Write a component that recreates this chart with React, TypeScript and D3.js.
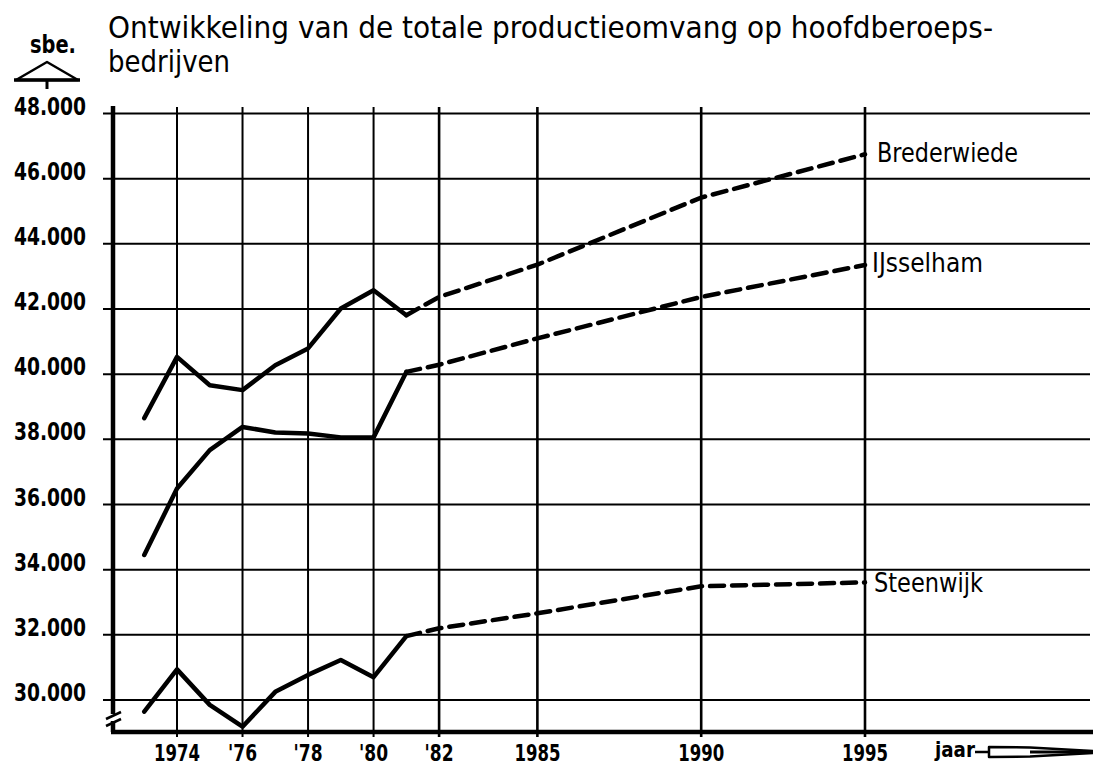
import React from 'react';
import * as d3 from 'd3';

// gemeten jaren 1973-1981
const years = [1973, 1974, 1975, 1976, 1977, 1978, 1979, 1980, 1981];
const brederwiede = [38650, 40530, 39660, 39510, 40275, 40790, 42015, 42575, 41810];
const ijsselham = [34450, 36490, 37670, 38380, 38210, 38180, 38060, 38060, 40070];
const steenwijk = [29640, 30940, 29850, 29180, 30250, 30770, 31230, 30700, 31960];

// prognose (gestippeld)
const projYears = [1981, 1982, 1985, 1990, 1995];
const brederwiedeProj = [41810, 42370, 43360, 45420, 46750];
const ijsselhamProj = [40070, 40290, 41100, 42370, 43350];
const steenwijkProj = [31960, 32200, 32660, 33490, 33610];

const seriesNames = ['Brederwiede', 'IJsselham', 'Steenwijk'];

const tickYears = [1974, 1976, 1978, 1980, 1982, 1985, 1990, 1995];
const tickYearLabels = ['1974', "'76", "'78", "'80", "'82", '1985', '1990', '1995'];
const yTicks = [30000, 32000, 34000, 36000, 38000, 40000, 42000, 44000, 46000, 48000];

const FONT = '"DejaVu Sans", sans-serif';

const App = () => {
  const width = 1093;
  const height = 767;

  const x = d3.scaleLinear().domain([1974, 1995]).range([177, 865]);
  const y = d3.scaleLinear().domain([30000, 48000]).range([700, 113.5]);

  const axisX = 113;
  const axisY = 732;
  const rightEdge = 1090;

  const line = d3.line<[number, number]>()
    .x(d => x(d[0]))
    .y(d => y(d[1]));

  const solid = [brederwiede, ijsselham, steenwijk].map(vals =>
    line(years.map((yr, i) => [yr, vals[i]] as [number, number])));
  const dashed = [brederwiedeProj, ijsselhamProj, steenwijkProj].map(vals =>
    line(projYears.map((yr, i) => [yr, vals[i]] as [number, number])));

  const fmt = (v: number) => d3.format(',')(v).replace(',', '.');

  const labelOffsets = [
    { dx: 12, dy: 8, w: 141 },
    { dx: 7, dy: 7, w: 111 },
    { dx: 9, dy: 10, w: 109 },
  ];
  const lastProj = [brederwiedeProj, ijsselhamProj, steenwijkProj].map(v => v[v.length - 1]);

  const yearLabelWidth = (s: string) =>
    s.split('').reduce((acc, c) => acc + (c === "'" ? 6 : 11.5), 0);

  return (
    <svg width={width} height={height} style={{ display: 'block', position: 'absolute', left: 0, top: 0, background: '#fff' }}>
      <rect width={width} height={height} fill="#fff" />

      {/* titel */}
      <text x={108} y={38} fontFamily={FONT} fontSize={30} textLength={885} lengthAdjust="spacingAndGlyphs" fill="#000">
        Ontwikkeling van de totale productieomvang op hoofdberoeps-
      </text>
      <text x={108} y={72} fontFamily={FONT} fontSize={30} textLength={122} lengthAdjust="spacingAndGlyphs" fill="#000">
        bedrijven
      </text>

      {/* eenheid y-as */}
      <text x={30} y={53} fontFamily={FONT} fontSize={24} fontWeight="bold" textLength={46} lengthAdjust="spacingAndGlyphs">sbe.</text>
      <path d="M47,62 L16,80 L78,80 Z" fill="#fff" stroke="#000" strokeWidth={2.5} strokeLinejoin="round" />
      <line x1={14} x2={80} y1={80} y2={80} stroke="#000" strokeWidth={3.5} />
      <line x1={47} x2={47} y1={80} y2={89} stroke="#000" strokeWidth={3} />

      {/* horizontale rasterlijnen */}
      {yTicks.map(t => (
        <g key={t}>
          <line x1={103} x2={rightEdge} y1={y(t)} y2={y(t)} stroke="#000" strokeWidth={2} />
          <text x={86} y={y(t) + 1} textAnchor="end" fontFamily={FONT} fontSize={24} fontWeight="bold"
            textLength={72} lengthAdjust="spacingAndGlyphs">{fmt(t)}</text>
        </g>
      ))}

      {/* verticale rasterlijnen */}
      {tickYears.map((t, i) => (
        <g key={t}>
          <line x1={x(t)} x2={x(t)} y1={107} y2={737} stroke="#000" strokeWidth={t >= 1982 ? 2.6 : 2} />
          <text x={x(t)} y={761} textAnchor="middle" fontFamily={FONT} fontSize={23} fontWeight="bold"
            textLength={yearLabelWidth(tickYearLabels[i])} lengthAdjust="spacingAndGlyphs">{tickYearLabels[i]}</text>
        </g>
      ))}

      {/* assen */}
      <line x1={axisX} x2={axisX} y1={106} y2={axisY} stroke="#000" strokeWidth={4.5} />
      <line x1={axisX - 2} x2={width} y1={axisY} y2={axisY} stroke="#000" strokeWidth={4.5} />
      {/* asbreuk */}
      <rect x={axisX - 4} y={714} width={8} height={7} fill="#fff" />
      <line x1={106} x2={121} y1={719} y2={712} stroke="#000" strokeWidth={2.5} />
      <line x1={106} x2={121} y1={726} y2={719} stroke="#000" strokeWidth={2.5} />

      {/* lijnen */}
      {solid.map((d, i) => (
        <path key={'s' + i} d={d || ''} fill="none" stroke="#000" strokeWidth={4.5} strokeLinejoin="round" strokeLinecap="round" />
      ))}
      {dashed.map((d, i) => (
        <path key={'d' + i} d={d || ''} fill="none" stroke="#000" strokeWidth={4.5} strokeDasharray="14 8" strokeLinecap="round" />
      ))}

      {/* reeksnamen */}
      {seriesNames.map((name, i) => (
        <text key={name} x={x(1995) + labelOffsets[i].dx} y={y(lastProj[i]) + labelOffsets[i].dy}
          fontFamily={FONT} fontSize={26} textLength={labelOffsets[i].w} lengthAdjust="spacingAndGlyphs">{name}</text>
      ))}

      {/* x-as eenheid */}
      <text x={935} y={757} fontFamily={FONT} fontSize={21} fontWeight="bold" textLength={40} lengthAdjust="spacingAndGlyphs">jaar</text>
      <line x1={975} x2={989} y1={752} y2={752} stroke="#000" strokeWidth={2.5} />
      <path d="M989,747 L1030,747.5 L1093,751 L1093,753 L1030,756.5 L989,757 Z" fill="#fff" stroke="#000" strokeWidth={2.5} strokeLinejoin="round" />
      <line x1={1030} x2={1093} y1={752} y2={752} stroke="#000" strokeWidth={3} />
    </svg>
  );
};

export default App;
